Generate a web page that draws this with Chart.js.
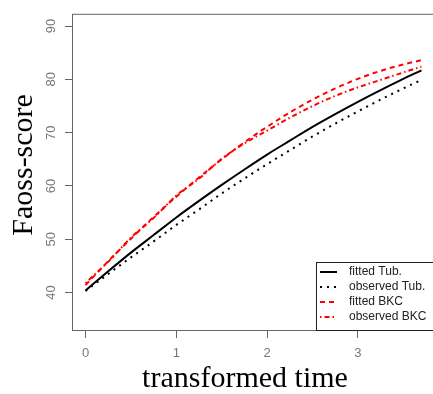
<!DOCTYPE html>
<html>
<head>
<meta charset="utf-8">
<title>Faoss-score</title>
<script src="https://cdn.jsdelivr.net/npm/chart.js@4.4.0/dist/chart.umd.min.js"></script>
<style>
  html, body { margin: 0; padding: 0; background: #fff; }
</style>
</head>
<body>
<canvas id="faoss-chart" width="433" height="394"></canvas>
<script>
var times = [0, 0.25, 0.5, 0.75, 1, 1.25, 1.5, 1.75, 2, 2.25, 2.5, 2.75, 3, 3.25, 3.5, 3.7];
var fittedTub   = [40.4, 44.0, 47.5, 50.8, 54.1, 57.2, 60.2, 63.1, 65.9, 68.5, 71.1, 73.5, 75.8, 78.0, 80.1, 81.7];
var observedTub = [40.3, 43.5, 46.6, 49.6, 52.7, 55.6, 58.6, 61.4, 64.1, 66.7, 69.3, 71.7, 74.0, 76.2, 78.3, 79.9];
var fittedBKC   = [41.4, 45.9, 50.1, 54.2, 58.0, 61.6, 65.0, 68.2, 71.1, 73.8, 76.2, 78.3, 80.1, 81.6, 82.8, 83.6];
var observedBKC = [41.8, 45.8, 50.3, 54.0, 58.2, 61.4, 65.1, 68.0, 70.4, 72.8, 75.0, 76.9, 78.5, 79.9, 81.3, 82.4];
var seriesNames = ["fitted Tub.", "observed Tub.", "fitted BKC", "observed BKC"];
var xTicks = [0, 1, 2, 3];
var yTicks = [40, 50, 60, 70, 80, 90];

function points(values) {
  return times.map(function (t, i) { return { x: t, y: values[i] }; });
}

// box around the plotting region
const frame = {
  id: 'frame',
  beforeDatasetsDraw(chart) {
    const { ctx, chartArea: a } = chart;
    ctx.save();
    ctx.strokeStyle = '#666';
    ctx.lineWidth = 1;
    ctx.strokeRect(a.left + 0.5, a.top + 0.5, a.right - a.left, a.bottom - a.top - 1);
    ctx.restore();
  }
};

// legend in the bottom-right corner, built from the datasets
const cornerLegend = {
  id: 'cornerLegend',
  afterDatasetsDraw(chart) {
    const { ctx, chartArea: a } = chart;
    const left = a.right - 117, top = a.bottom - 69, rowH = 15;
    ctx.save();
    ctx.fillStyle = '#fff';
    ctx.fillRect(left, top, a.right - left, a.bottom - top);
    ctx.strokeStyle = '#222';
    ctx.lineWidth = 1;
    ctx.strokeRect(left + 0.5, top + 0.5, a.right - left + 2, a.bottom - top - 1);
    ctx.font = '12px "Liberation Sans", Arial, sans-serif';
    ctx.textBaseline = 'middle';
    chart.data.datasets.forEach(function (ds, i) {
      const y = top + 10 + i * rowH;
      ctx.strokeStyle = ds.borderColor;
      ctx.lineWidth = ds.borderWidth;
      ctx.setLineDash(ds.borderDash || []);
      ctx.beginPath();
      ctx.moveTo(left + 4, y);
      ctx.lineTo(left + 21, y);
      ctx.stroke();
      ctx.setLineDash([]);
      ctx.fillStyle = '#222';
      ctx.fillText(ds.label, left + 33, y);
    });
    ctx.restore();
  }
};

new Chart(document.getElementById('faoss-chart'), {
  type: 'line',
  data: {
    datasets: [
      { label: seriesNames[0], data: points(fittedTub), borderColor: '#000', borderWidth: 2 },
      { label: seriesNames[1], data: points(observedTub), borderColor: '#000', borderWidth: 2, borderDash: [2, 5] },
      { label: seriesNames[2], data: points(fittedBKC), borderColor: '#ff0000', borderWidth: 2, borderDash: [5, 4] },
      { label: seriesNames[3], data: points(observedBKC), borderColor: '#ff0000', borderWidth: 2, borderDash: [1.5, 3, 5, 3] }
    ]
  },
  options: {
    responsive: false,
    animation: false,
    devicePixelRatio: 1,
    layout: { padding: { top: 11, right: 0, bottom: 0, left: 0 } },
    elements: {
      point: { radius: 0 },
      line: { cubicInterpolationMode: 'monotone', fill: false }
    },
    plugins: {
      legend: { display: false },
      tooltip: { enabled: false }
    },
    scales: {
      x: {
        type: 'linear',
        min: -0.149,
        max: 3.827,
        afterBuildTicks: function (s) { s.ticks = xTicks.map(function (v) { return { value: v }; }); },
        afterFit: function (s) { s.height = 63; },
        border: { display: false },
        grid: { drawOnChartArea: false, drawTicks: true, tickLength: 7, color: '#666' },
        ticks: {
          padding: 8, maxRotation: 0, color: '#777',
          font: { family: 'Liberation Sans', size: 13 }
        },
        title: {
          display: true, text: 'transformed time\u2002', color: '#000', padding: 0,
          font: { family: 'Liberation Serif', size: 30, lineHeight: 1 }
        }
      },
      y: {
        type: 'linear',
        min: 32.8,
        max: 92.3,
        afterBuildTicks: function (s) { s.ticks = yTicks.map(function (v) { return { value: v }; }); },
        afterFit: function (s) { s.width = 72; },
        border: { display: false },
        grid: { drawOnChartArea: false, drawTicks: true, tickLength: 7, color: '#666' },
        ticks: {
          padding: 6, minRotation: 90, maxRotation: 90, crossAlign: 'center', color: '#777',
          font: { family: 'Liberation Sans', size: 13 }
        },
        title: {
          display: true, text: '\u2002Faoss-score', color: '#000', padding: { top: 9, bottom: 0 },
          font: { family: 'Liberation Serif', size: 30, lineHeight: 1 }
        }
      }
    }
  },
  plugins: [frame, cornerLegend]
});
</script>
</body>
</html>
